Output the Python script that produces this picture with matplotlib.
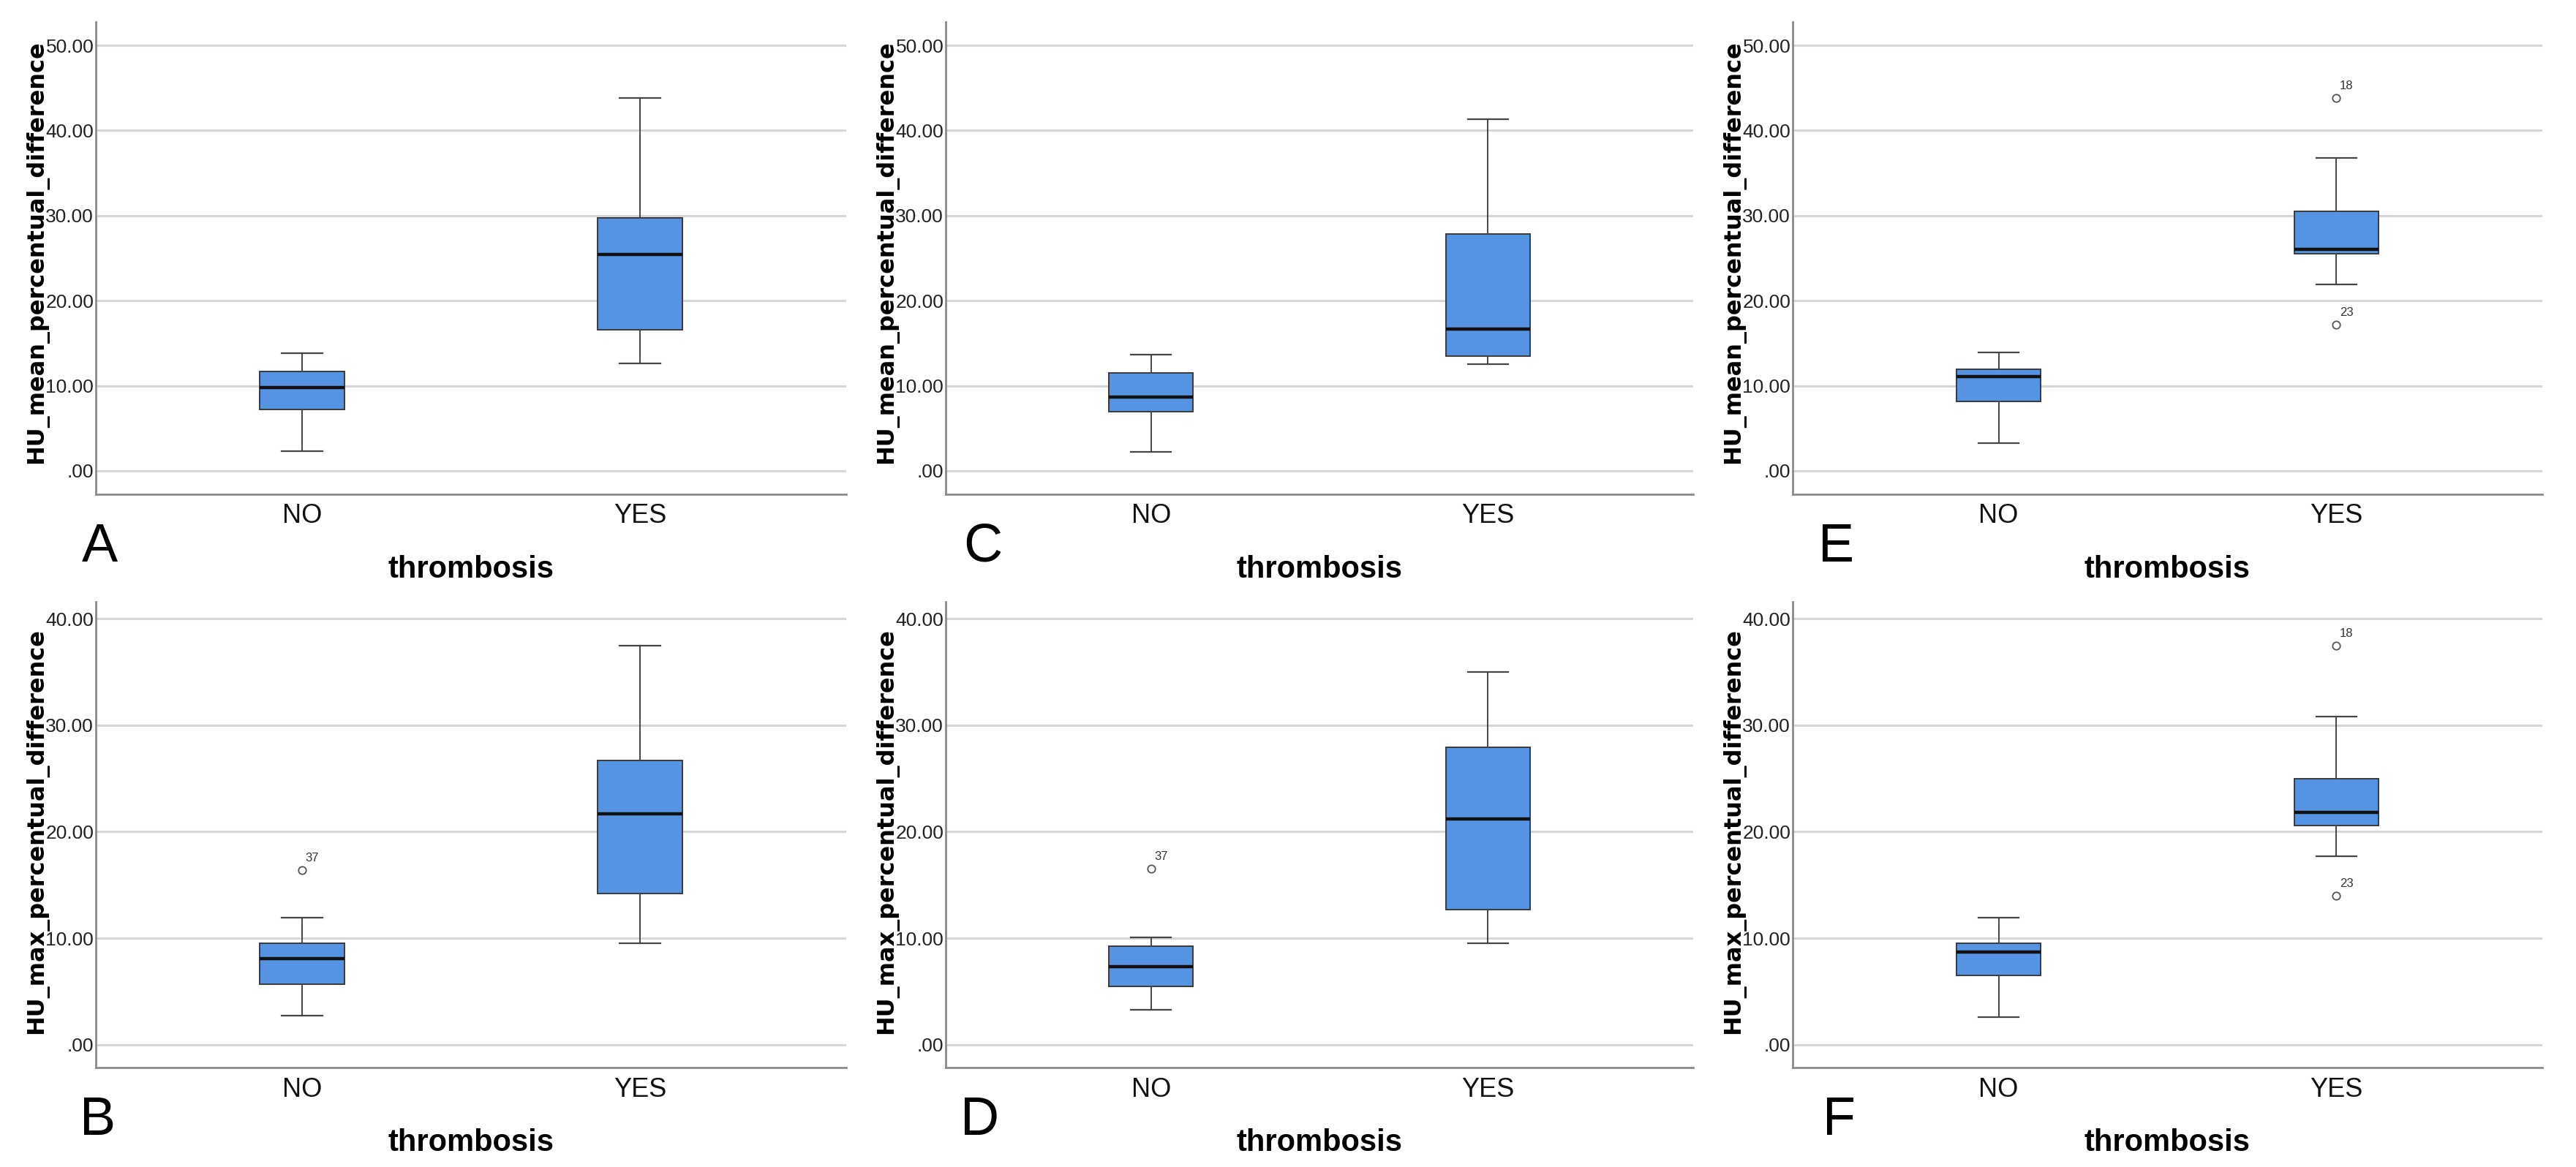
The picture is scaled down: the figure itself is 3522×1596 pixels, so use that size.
import matplotlib.pyplot as plt

plt.rcParams['font.family'] = ['Liberation Sans', 'DejaVu Sans']

categories = ['NO', 'YES']
x_title = 'thrombosis'
mean_label = 'HU_mean_percentual_difference'
max_label = 'HU_max_percentual_difference'

# box summaries: low whisker, Q1, median, Q3, high whisker
a_no = [2.3, 7.2, 9.8, 11.7, 13.8]
a_yes = [12.6, 16.6, 25.4, 29.7, 43.8]
b_no = [2.7, 5.7, 8.1, 9.5, 11.9]
b_yes = [9.5, 14.2, 21.7, 26.7, 37.5]
c_no = [2.2, 7.0, 8.7, 11.5, 13.7]
c_yes = [12.5, 13.5, 16.7, 27.8, 41.3]
d_no = [3.3, 5.5, 7.3, 9.25, 10.1]
d_yes = [9.5, 12.7, 21.2, 27.9, 35.0]
e_no = [3.3, 8.2, 11.1, 11.9, 13.9]
e_yes = [21.9, 25.5, 26.0, 30.5, 36.8]
f_no = [2.6, 6.5, 8.7, 9.5, 11.9]
f_yes = [17.7, 20.6, 21.8, 25.0, 30.8]

# outliers and their case numbers
b_no_out = [16.4]
b_no_ids = ['37']
d_no_out = [16.5]
d_no_ids = ['37']
e_yes_out = [43.8, 17.2]
e_yes_ids = ['18', '23']
f_yes_out = [37.5, 14.0]
f_yes_ids = ['18', '23']

mean_ticks = [0, 10, 20, 30, 40, 50]
max_ticks = [0, 10, 20, 30, 40]

BLUE = '#5594e3'

# layout in pixels of the 3522x1596 image
W, H = 3522, 1596
col_left = [131, 1293, 2451]
col_right = [1157, 2315, 3476]
row_top = [30, 823]
row_bottom = [676, 1460]
row_ylim = [(-2.75, 52.75), (-2.15, 41.6)]
row_label_y = [345, 1137]
letter_base = [768, 1552]

panels = [
    ('A', 0, 0, a_no, a_yes, [], [], [], [], mean_label, mean_ticks, 136),
    ('C', 0, 1, c_no, c_yes, [], [], [], [], mean_label, mean_ticks, 1344),
    ('E', 0, 2, e_no, e_yes, [], [], e_yes_out, e_yes_ids, mean_label, mean_ticks, 2510),
    ('B', 1, 0, b_no, b_yes, b_no_out, b_no_ids, [], [], max_label, max_ticks, 134),
    ('D', 1, 1, d_no, d_yes, d_no_out, d_no_ids, [], [], max_label, max_ticks, 1340),
    ('F', 1, 2, f_no, f_yes, [], [], f_yes_out, f_yes_ids, max_label, max_ticks, 2514),
]


def summary(s, fliers):
    return dict(whislo=s[0], q1=s[1], med=s[2], q3=s[3], whishi=s[4], fliers=fliers)


def fmt(v):
    return '.00' if v == 0 else f'{v:.2f}'


fig = plt.figure(figsize=(W / 100, H / 100), dpi=100)

for letter, r, c, no_s, yes_s, no_out, no_ids, yes_out, yes_ids, ylab, ticks, lx in panels:
    left, right = col_left[c], col_right[c]
    top, bottom = row_top[r], row_bottom[r]
    ax = fig.add_axes([left / W, 1 - bottom / H, (right - left) / W, (bottom - top) / H])

    ax.bxp([summary(no_s, no_out), summary(yes_s, yes_out)], positions=[0, 1],
           widths=0.25, capwidths=0.12, patch_artist=True, showfliers=True,
           boxprops=dict(facecolor=BLUE, edgecolor='#3a3a3a', linewidth=1.4),
           medianprops=dict(color='#111111', linewidth=3.2),
           whiskerprops=dict(color='#444444', linewidth=1.4),
           capprops=dict(color='#444444', linewidth=1.6),
           flierprops=dict(marker='o', markerfacecolor='none', markeredgecolor='#555555',
                           markersize=7.5, markeredgewidth=1.3))

    for pos, vals, ids in [(0, no_out, no_ids), (1, yes_out, yes_ids)]:
        for v, i in zip(vals, ids):
            ax.annotate(i, (pos, v), xytext=(10, 12), textcoords='offset points',
                        fontsize=12, ha='center', va='center', color='#333333')

    ax.set_xlim(-0.61, 1.61)
    ax.set_ylim(*row_ylim[r])
    ax.set_xticks([0, 1])
    ax.set_xticklabels(categories)
    ax.set_yticks(ticks)
    ax.set_yticklabels([fmt(t) for t in ticks])
    ax.tick_params(axis='y', length=0, pad=2, labelsize=19, labelcolor='#222222')
    ax.tick_params(axis='x', length=0, pad=9, labelsize=26, labelcolor='#111111')
    ax.yaxis.grid(True, color='#d6d6d6', linewidth=2.2)
    ax.set_axisbelow(True)
    for s in ['top', 'right']:
        ax.spines[s].set_visible(False)
    for s in ['left', 'bottom']:
        ax.spines[s].set_color('#8a8a8a')
        ax.spines[s].set_linewidth(2)

    ax.text(0.5, -114 / (bottom - top), x_title, transform=ax.transAxes,
            ha='center', va='baseline', fontsize=30, fontweight='bold')

    fig.text((left - 81) / W, 1 - row_label_y[r] / H, ylab, rotation=90,
             ha='center', va='center', family='DejaVu Sans', fontweight='bold', fontsize=23)
    fig.text(lx / W, 1 - letter_base[r] / H, letter, ha='center', va='baseline',
             family='Liberation Sans', fontsize=53)

fig.savefig('out.png', dpi=100, facecolor='white')
